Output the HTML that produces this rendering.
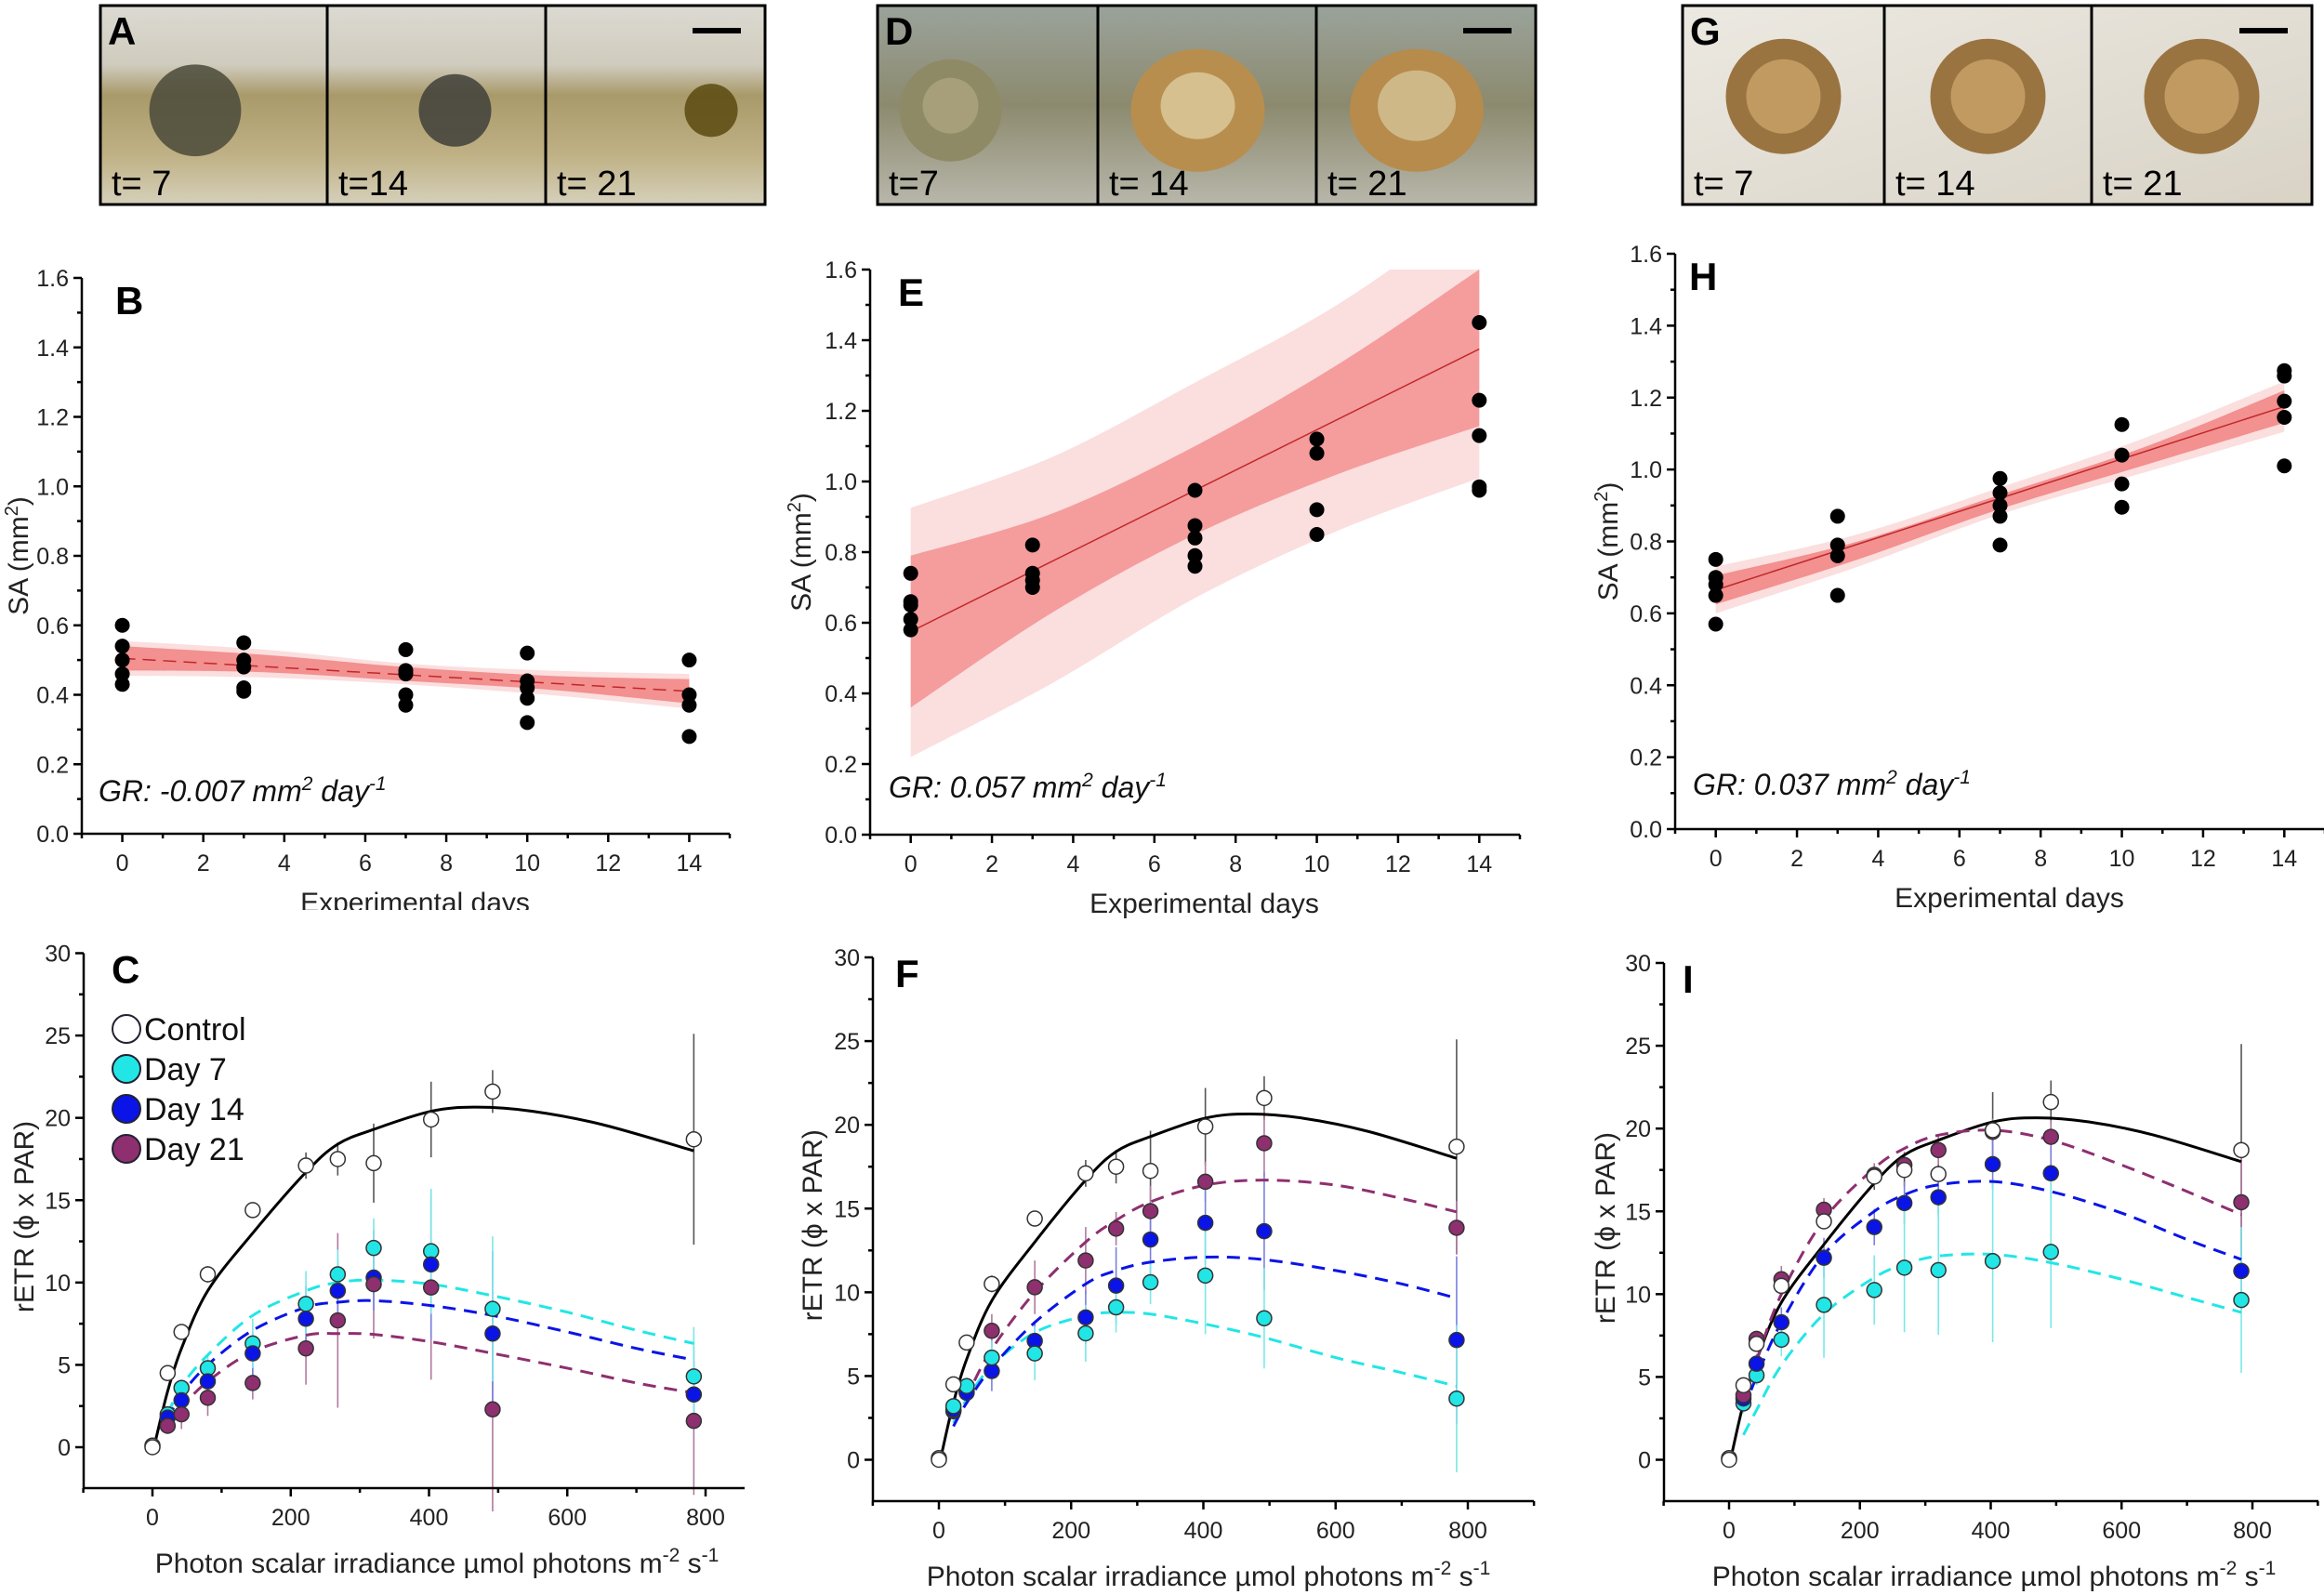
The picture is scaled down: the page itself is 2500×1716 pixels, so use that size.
<!DOCTYPE html>
<html><head><meta charset="utf-8"><style>
html,body{margin:0;padding:0;background:#fff;}
svg{display:block;font-family:"Liberation Sans",Arial,sans-serif;}
</style></head><body>
<svg id="fig" width="2500" height="1716" viewBox="0 0 2500 1716" xmlns="http://www.w3.org/2000/svg">
<defs>
<linearGradient id="gA" x1="0" y1="0" x2="0" y2="1"><stop offset="0" stop-color="#dcdad2"/><stop offset="0.3" stop-color="#cfcbbd"/><stop offset="0.45" stop-color="#a99a6a"/><stop offset="0.75" stop-color="#bfb185"/><stop offset="1" stop-color="#d6d0bb"/></linearGradient>
<linearGradient id="gD" x1="0" y1="0" x2="0" y2="1"><stop offset="0" stop-color="#9aa39b"/><stop offset="0.5" stop-color="#8c8a6e"/><stop offset="1" stop-color="#b8b7ab"/></linearGradient>
<linearGradient id="gG" x1="0" y1="0" x2="1" y2="1"><stop offset="0" stop-color="#ece9e2"/><stop offset="1" stop-color="#d9d3c6"/></linearGradient>
</defs>
<g id="photos"></g>
<g id="charts"></g>
</svg>
<script>
// ---------- SA (surface area) data ----------
const saDays = [0, 3, 7, 10, 14];
const saB = [[0.60,0.54,0.50,0.46,0.43],[0.55,0.50,0.48,0.42,0.41],[0.53,0.47,0.46,0.40,0.37],[0.52,0.44,0.42,0.39,0.32],[0.50,0.40,0.37,0.28]];
const saE = [[0.74,0.66,0.65,0.61,0.58],[0.82,0.74,0.72,0.70],[0.975,0.875,0.84,0.79,0.76],[1.12,1.08,0.92,0.85],[1.45,1.23,1.13,0.985,0.975]];
const saH = [[0.75,0.70,0.68,0.65,0.57],[0.87,0.79,0.76,0.65],[0.975,0.935,0.90,0.87,0.79],[1.125,1.04,0.96,0.895],[1.275,1.26,1.19,1.145,1.01]];
const fitB = [0.505, 0.41];
const fitE = [0.575, 1.375];
const fitH = [0.665, 1.175];
const bandX = [0, 3.5, 7, 10.5, 14];
const bandBInLo = [0.47,0.465,0.44,0.415,0.375], bandBInHi = [0.54,0.515,0.48,0.455,0.445];
const bandBOutLo = [0.455,0.45,0.43,0.40,0.36], bandBOutHi = [0.555,0.53,0.49,0.47,0.46];
const bandEInLo = [0.36,0.63,0.85,1.02,1.157], bandEInHi = [0.79,0.91,1.10,1.33,1.6];
const bandEOutLo = [0.22,0.43,0.67,0.86,1.01], bandEOutHi = [0.925,1.07,1.28,1.50,1.78];
const bandHInLo = [0.625,0.75,0.89,1.01,1.13], bandHInHi = [0.705,0.80,0.93,1.06,1.22];
const bandHOutLo = [0.60,0.73,0.875,0.99,1.105], bandHOutHi = [0.73,0.82,0.95,1.085,1.245];
const saYTicks = ["0.0","0.2","0.4","0.6","0.8","1.0","1.2","1.4","1.6"];
const saXTicks = [0,2,4,6,8,10,12,14];

// ---------- rETR data ----------
const par = [0, 22, 42, 80, 145, 222, 268, 320, 403, 492, 783];
const ctrl = [0.1, 4.5, 7.0, 10.5, 14.4, 17.1, 17.5, 17.25, 19.9, 21.6, 18.7];
const ctrlErr = [0, 0.3, 0.4, 0.5, 0.4, 0.8, 1.0, 2.4, 2.3, 1.3, 6.4];
const ctrlCurveX = [5, 22, 42, 80, 145, 222, 268, 320, 403, 470, 550, 650, 783];
const ctrlCurveY = [0.5, 3.4, 6.0, 9.5, 13.0, 16.7, 18.4, 19.3, 20.4, 20.65, 20.4, 19.6, 18.0];
const fitX = [22, 42, 80, 145, 222, 268, 320, 403, 492, 600, 700, 783];
// panel C
const c7 = [null, 2.0, 3.6, 4.8, 6.3, 8.7, 10.5, 12.1, 11.9, 8.4, 4.3];
const c14 = [null, 1.8, 2.85, 4.0, 5.7, 7.8, 9.5, 10.3, 11.1, 6.9, 3.2];
const c21 = [null, 1.3, 2.0, 3.0, 3.9, 6.0, 7.7, 9.9, 9.7, 2.3, 1.6];
const c7Err = [0, 0.4, 0.5, 0.8, 1.5, 2.0, 1.5, 1.8, 3.8, 4.4, 3.0];
const c14Err = [0, 0.3, 0.5, 0.8, 1.3, 2.0, 1.8, 2.0, 4.5, 5.0, 2.0];
const c21Err = [0, 0.4, 0.9, 1.1, 1.0, 2.2, 5.3, 3.3, 5.6, 6.2, 4.5];
const c7Fit = [2.0, 3.7, 5.6, 8.0, 9.5, 10.0, 10.15, 9.9, 9.2, 8.2, 7.1, 6.3];
const c14Fit = [1.7, 3.2, 5.0, 7.1, 8.5, 8.8, 8.9, 8.6, 8.0, 7.0, 6.0, 5.3];
const c21Fit = [1.2, 2.4, 4.0, 5.8, 6.8, 6.9, 6.85, 6.4, 5.7, 4.8, 3.9, 3.3];
// panel F
const f7 = [null, 3.2, 4.4, 6.1, 6.35, 7.55, 9.1, 10.6, 11.0, 8.45, 3.65];
const f14 = [null, 3.0, 4.0, 5.3, 7.1, 8.5, 10.4, 13.15, 14.15, 13.65, 7.15];
const f21 = [null, 2.9, 4.1, 7.7, 10.3, 11.9, 13.8, 14.85, 16.6, 18.9, 13.85];
const f7Err = [0, 0.5, 0.5, 1.0, 1.6, 1.7, 1.5, 1.3, 3.5, 3.0, 4.4];
const f14Err = [0, 0.4, 0.5, 1.2, 1.2, 1.6, 2.3, 2.0, 2.5, 3.5, 5.0];
const f21Err = [0, 0.5, 0.6, 1.0, 1.6, 2.0, 1.0, 1.5, 1.2, 2.0, 1.6];
const f7Fit = [2.2, 3.6, 5.6, 7.6, 8.6, 8.8, 8.7, 8.1, 7.3, 6.1, 5.2, 4.4];
const f14Fit = [2.0, 3.4, 5.5, 8.2, 10.5, 11.3, 11.8, 12.1, 11.95, 11.3, 10.5, 9.65];
const f21Fit = [2.5, 3.8, 6.6, 10.0, 13.0, 14.3, 15.4, 16.4, 16.7, 16.4, 15.6, 14.8];
// panel I
const i7 = [null, 3.4, 5.1, 7.25, 9.35, 10.25, 11.6, 11.45, 12.0, 12.55, 9.65];
const i14 = [null, 3.7, 5.8, 8.3, 12.2, 14.05, 15.5, 15.85, 17.85, 17.3, 11.4];
const i21 = [null, 3.9, 7.3, 10.9, 15.1, 17.2, 17.8, 18.7, 19.8, 19.5, 15.55];
const i7Err = [0, 0.6, 0.6, 1.0, 3.2, 2.1, 3.9, 3.9, 4.9, 4.6, 4.4];
const i14Err = [0, 0.4, 0.6, 0.9, 1.2, 1.1, 1.3, 1.2, 1.5, 1.6, 1.8];
const i21Err = [0, 0.4, 0.5, 0.8, 0.7, 0.7, 0.8, 0.9, 0.8, 1.0, 3.2];
const i7Fit = [1.5, 3.0, 5.7, 8.8, 11.0, 11.8, 12.3, 12.4, 11.9, 10.9, 9.8, 8.9];
const i14Fit = [3.0, 5.0, 8.3, 12.4, 15.0, 16.0, 16.6, 16.8, 16.2, 14.9, 13.3, 12.1];
const i21Fit = [3.5, 6.0, 10.0, 14.5, 17.6, 18.8, 19.6, 19.9, 19.3, 17.8, 16.2, 14.8];
const eYTicks = [0, 5, 10, 15, 20, 25, 30];
const eXTicks = [0, 200, 400, 600, 800];

const NS = "http://www.w3.org/2000/svg";
function mk(tag, attrs, parent, txt) {
  const e = document.createElementNS(NS, tag);
  for (const k in attrs) e.setAttribute(k, attrs[k]);
  if (txt !== undefined) e.textContent = txt;
  parent.appendChild(e);
  return e;
}
function smooth(pts) {
  let d = "M" + pts[0][0] + "," + pts[0][1];
  for (let i = 0; i < pts.length - 1; i++) {
    const p0 = pts[Math.max(0, i - 1)], p1 = pts[i], p2 = pts[i + 1], p3 = pts[Math.min(pts.length - 1, i + 2)];
    const c1 = [p1[0] + (p2[0] - p0[0]) / 6, p1[1] + (p2[1] - p0[1]) / 6];
    const c2 = [p2[0] - (p3[0] - p1[0]) / 6, p2[1] - (p3[1] - p1[1]) / 6];
    d += " C" + c1[0] + "," + c1[1] + " " + c2[0] + "," + c2[1] + " " + p2[0] + "," + p2[1];
  }
  return d;
}
const root = document.getElementById("charts");

// ---------- photos ----------
const photos = document.getElementById("photos");
function strip(name, x, y, w, h, divs, grad, labels, kind) {
  const g = mk("g", {}, photos);
  
  
  mk("rect", {x: x, y: y, width: w, height: h, fill: "url(#" + grad + ")"}, g);
  const edges = [x].concat(divs).concat([x + w]);
  for (let i = 0; i < 3; i++) {
    const cx = (edges[i] + edges[i + 1]) / 2, cy = y + h * 0.48, sw = edges[i + 1] - edges[i];
    if (kind === "A") {
      const r = [38, 30, 22][i];
      mk("ellipse", {cx: cx - 20 + i * 40, cy: cy + 10, rx: r * 1.3, ry: r * 1.3, fill: ["#4a4a3a", "#3f3f3a", "#5a4a10"][i], opacity: 0.85}, g);
    } else if (kind === "D") {
      mk("ellipse", {cx: cx - (i === 0 ? 40 : 10), cy: cy + 10, rx: [55, 72, 72][i], ry: [55, 66, 66][i], fill: ["#8f8a66", "#b88e4e", "#b68b4c"][i]}, g);
      mk("ellipse", {cx: cx - (i === 0 ? 40 : 10), cy: cy + 5, rx: [30, 40, 42][i], ry: [30, 36, 38][i], fill: ["#a69f7a", "#d6c08f", "#cfb888"][i]}, g);
    } else {
      mk("ellipse", {cx: cx, cy: cy - 5, rx: 62, ry: 62, fill: "#9a7440"}, g);
      mk("ellipse", {cx: cx, cy: cy - 5, rx: 40, ry: 40, fill: "#c19a62"}, g);
    }
    const t = mk("text", {x: edges[i] + 12, y: y + h - 10, "font-size": 38, fill: "#000"}, g, labels[i]);
    
    
  }
  for (const d of divs) mk("line", {x1: d, y1: y, x2: d, y2: y + h, stroke: "#000", "stroke-width": 3}, g);
  mk("rect", {x: x, y: y, width: w, height: h, fill: "none", stroke: "#000", "stroke-width": 3}, g);
  const sb = mk("rect", {x: x + w - 78, y: y + 24, width: 52, height: 6, fill: "#000"}, g);
  
  
  mk("text", {x: x + 8, y: y + 42, "font-size": 42, "font-weight": "bold"}, g, kind === "A" ? "A" : kind === "D" ? "D" : "G");
}
strip("photo-strip-a", 108, 6, 715, 214, [352, 587], "gA", ["t= 7", "t=14", "t= 21"], "A");
strip("photo-strip-d", 944, 6, 708, 214, [1181, 1416], "gD", ["t=7", "t= 14", "t= 21"], "D");
strip("photo-strip-g", 1810, 6, 677, 214, [2027, 2250], "gG", ["t= 7", "t= 14", "t= 21"], "G");

// ---------- SA panels ----------
function saPanel(cfg) {
  const g = mk("g", {}, root);
  
  
  const xs = v => cfg.xL + (v + 1) * (cfg.xR - cfg.xL) / 16;
  const ys = v => cfg.y0 + (cfg.y16 - cfg.y0) * v / 1.6;
  const clip = "clip-" + cfg.name;
  const cp = mk("clipPath", {id: clip}, g);
  mk("rect", {x: cfg.xL, y: cfg.y16, width: cfg.xR - cfg.xL, height: cfg.y0 - cfg.y16}, cp);
  function band(lo, hi, fill, nm) {
    const up = bandX.map((x, i) => [xs(x), ys(hi[i])]);
    const dn = bandX.map((x, i) => [xs(x), ys(lo[i])]).reverse();
    const d = smooth(up) + " L" + dn[0][0] + "," + dn[0][1] + smooth(dn).replace(/^M[^ C]+/, "") + " Z";
    const p = mk("path", {d: d, fill: fill, "clip-path": "url(#" + clip + ")"}, g);
    
    
  }
  band(cfg.outLo, cfg.outHi, "#fbdede", "prediction-band");
  band(cfg.inLo, cfg.inHi, cfg.inFill, "confidence-band");
  const fl = mk("line", {x1: xs(0), y1: ys(cfg.fit[0]), x2: xs(14), y2: ys(cfg.fit[1]), stroke: "#c0282a", "stroke-width": 1.5, "stroke-dasharray": cfg.dash}, g);
  
  
  cfg.pts.forEach((arr, i) => arr.forEach(v => {
    const c = mk("circle", {cx: xs(saDays[i]), cy: ys(v), r: 8, fill: "#000"}, g);
    
    
  }));
  // axes
  const ax = mk("g", {stroke: "#000", "stroke-width": 2.5}, g);
  
  
  mk("line", {x1: cfg.xL, y1: cfg.y16, x2: cfg.xL, y2: cfg.y0}, ax);
  mk("line", {x1: cfg.xL, y1: cfg.y0, x2: cfg.xR, y2: cfg.y0}, ax);
  for (let k = 0; k <= 16; k++) {
    const y = ys(k * 0.1);
    mk("line", {x1: cfg.xL - (k % 2 ? 5 : 9), y1: y, x2: cfg.xL, y2: y}, ax);
  }
  for (let k = -1; k <= 15; k++) {
    const x = xs(k);
    mk("line", {x1: x, y1: cfg.y0, x2: x, y2: cfg.y0 + (k % 2 ? 5 : 9)}, ax);
  }
  saYTicks.forEach((t, i) => {
    const e = mk("text", {x: cfg.xL - 14, y: ys(parseFloat(t)) + 9, "font-size": 25, "text-anchor": "end", fill: "#222"}, g, t);
    
    
  });
  saXTicks.forEach(t => {
    const e = mk("text", {x: xs(t), y: cfg.y0 + 40, "font-size": 25, "text-anchor": "middle", fill: "#222"}, g, t);
    
    
  });
  const xt = mk("text", {x: (xs(-1) + xs(15)) / 2 + 10, y: cfg.y0 + 84, "font-size": 30, "text-anchor": "middle", fill: "#222"}, g, "Experimental days");
  
  
  const yt = mk("text", {x: 0, y: 0, "font-size": 30, "text-anchor": "middle", fill: "#222", transform: "translate(" + cfg.ytX + "," + ys(0.8) + ") rotate(-90)"}, g);
  
  
  yt.innerHTML = 'SA (mm<tspan dy="-11" font-size="20">2</tspan><tspan dy="11">)</tspan>';
  const lt = mk("text", {x: cfg.lx, y: ys(1.6) + 39, "font-size": 42, "font-weight": "bold"}, g, cfg.letter);
  
  
  const gr = mk("text", {x: cfg.grx, y: cfg.gry, "font-size": 32, "font-style": "italic", fill: "#111"}, g);
  
  
  gr.innerHTML = cfg.gr + ' mm<tspan dy="-12" font-size="21">2</tspan><tspan dy="12"> day</tspan><tspan dy="-12" font-size="21">-1</tspan>';
}
saPanel({name: "chart-b", letter: "B", xL: 88, xR: 785, y0: 897, y16: 299, pts: saB, fit: fitB, inLo: bandBInLo, inHi: bandBInHi, outLo: bandBOutLo, outHi: bandBOutHi, inFill: "#f39090", dash: "14 8", ytX: 30, lx: 124, grx: 106, gry: 862, gr: "GR: -0.007"});
saPanel({name: "chart-e", letter: "E", xL: 936, xR: 1635, y0: 898, y16: 290, pts: saE, fit: fitE, inLo: bandEInLo, inHi: bandEInHi, outLo: bandEOutLo, outHi: bandEOutHi, inFill: "#f59c9c", dash: "none", ytX: 872, lx: 966, grx: 956, gry: 858, gr: "GR: 0.057"});
saPanel({name: "chart-h", letter: "H", xL: 1802, xR: 2501, y0: 892, y16: 273, pts: saH, fit: fitH, inLo: bandHInLo, inHi: bandHInHi, outLo: bandHOutLo, outHi: bandHOutHi, inFill: "#f39090", dash: "none", ytX: 1740, lx: 1817, grx: 1821, gry: 855, gr: "GR: 0.037"});
// cover clipped B title like reference
mk("rect", {x: 0, y: 979, width: 840, height: 12, fill: "#fff"}, root);

// ---------- rETR panels ----------
const seriesColors = {d7: "#22e6e6", d14: "#0a14e6", d21: "#8e2f70"};
function etrPanel(cfg) {
  const g = mk("g", {}, root);
  
  
  const xs = v => cfg.x0 + (cfg.x800 - cfg.x0) * v / 800;
  const ys = v => cfg.y0 + (cfg.y30 - cfg.y0) * v / 30;
  // fits
  function fitLine(xa, ya, col, dash, nm, w) {
    const p = mk("path", {d: smooth(xa.map((x, i) => [xs(x), ys(ya[i])])), fill: "none", stroke: col, "stroke-width": w, "stroke-dasharray": dash}, g);
    
    
  }
  function errs(vals, e, col, nm) {
    vals.forEach((v, i) => {
      if (v === null || !e[i]) return;
      const l = mk("line", {x1: xs(par[i]), x2: xs(par[i]), y1: ys(v - e[i]), y2: ys(v + e[i]), stroke: col, "stroke-width": 1.6}, g);
      
      
    });
  }
  function pts(vals, col, stroke, nm) {
    vals.forEach((v, i) => {
      if (v === null) return;
      const c = mk("circle", {cx: xs(par[i]), cy: ys(v), r: 8, fill: col, stroke: stroke, "stroke-width": 1.5}, g);
      
      
    });
  }
  errs(ctrl, ctrlErr, "#555", "control-error-bar");
  errs(cfg.s21, cfg.e21, "#b07a9e", "day21-error-bar");
  errs(cfg.s14, cfg.e14, "#7a80e0", "day14-error-bar");
  errs(cfg.s7, cfg.e7, "#7ae8e8", "day7-error-bar");
  fitLine(ctrlCurveX, ctrlCurveY, "#000", "none", "control-fit", 3);
  fitLine(fitX, cfg.f7, seriesColors.d7, "14 9", "day7-fit", 3);
  fitLine(fitX, cfg.f14, seriesColors.d14, "14 9", "day14-fit", 3);
  fitLine(fitX, cfg.f21, seriesColors.d21, "14 9", "day21-fit", 3);
  pts(cfg.order[0], cfg.orderC[0], "#333", "series-point");
  pts(cfg.order[1], cfg.orderC[1], "#333", "series-point");
  pts(cfg.order[2], cfg.orderC[2], "#333", "series-point");
  pts(ctrl, "#fff", "#333", "control-point");
  pts([0], "#fff", "#333", "control-point");
  // axes
  const ax = mk("g", {stroke: "#000", "stroke-width": 2.5}, g);
  
  
  mk("line", {x1: cfg.xL, y1: ys(30), x2: cfg.xL, y2: cfg.yB}, ax);
  mk("line", {x1: cfg.xL, y1: cfg.yB, x2: cfg.xR, y2: cfg.yB}, ax);
  for (let k = 0; k <= 12; k++) {
    const y = ys(k * 2.5);
    mk("line", {x1: cfg.xL - (k % 2 ? 5 : 9), y1: y, x2: cfg.xL, y2: y}, ax);
  }
  for (let k = -100; k <= cfg.xMax; k += 100) {
    const x = xs(k);
    mk("line", {x1: x, y1: cfg.yB, x2: x, y2: cfg.yB + (k % 200 ? 5 : 9)}, ax);
  }
  eYTicks.forEach(t => {
    const e = mk("text", {x: cfg.xL - 14, y: ys(t) + 9, "font-size": 25, "text-anchor": "end", fill: "#222"}, g, t);
    
    
  });
  eXTicks.forEach(t => {
    const e = mk("text", {x: xs(t), y: cfg.yB + 40, "font-size": 25, "text-anchor": "middle", fill: "#222"}, g, t);
    
    
  });
  const xt = mk("text", {x: cfg.xtX, y: cfg.yB + 91, "font-size": 30, "text-anchor": "middle", fill: "#222"}, g);
  
  
  xt.innerHTML = 'Photon scalar irradiance µmol photons m<tspan dy="-12" font-size="21">-2</tspan><tspan dy="12"> s</tspan><tspan dy="-12" font-size="21">-1</tspan>';
  const yt = mk("text", {x: 0, y: 0, "font-size": 30, "text-anchor": "middle", fill: "#222", transform: "translate(" + cfg.ytX + "," + ys(14) + ") rotate(-90)"}, g, "rETR (ϕ x PAR)");
  
  
  const lt = mk("text", {x: cfg.lx, y: ys(30) + 32, "font-size": 42, "font-weight": "bold"}, g, cfg.letter);
  
  
  if (cfg.legend) {
    const lg = mk("g", {}, g);
    
    
    const items = [["Control", "#fff"], ["Day 7", seriesColors.d7], ["Day 14", seriesColors.d14], ["Day 21", seriesColors.d21]];
    items.forEach((it, i) => {
      const y = 1107 + i * 43;
      const c = mk("circle", {cx: 136, cy: y, r: 15, fill: it[1], stroke: "#223", "stroke-width": 2}, lg);
      
      
      const t = mk("text", {x: 155, y: y + 12, "font-size": 34, fill: "#111"}, lg, it[0]);
      
      
    });
  }
}
etrPanel({name: "chart-c", letter: "C", x0: 164, x800: 759, xL: 90, xR: 801, xMax: 800, y0: 1557, y30: 1025.5, yB: 1601,
  s7: c7, s14: c14, s21: c21, e7: c7Err, e14: c14Err, e21: c21Err, f7: c7Fit, f14: c14Fit, f21: c21Fit,
  order: [c7, c14, c21], orderC: [seriesColors.d7, seriesColors.d14, seriesColors.d21], xtX: 470, ytX: 36, lx: 120, legend: true});
etrPanel({name: "chart-f", letter: "F", x0: 1010, x800: 1579, xL: 939, xR: 1650, xMax: 900, y0: 1570.5, y30: 1030, yB: 1615,
  s7: f7, s14: f14, s21: f21, e7: f7Err, e14: f14Err, e21: f21Err, f7: f7Fit, f14: f14Fit, f21: f21Fit,
  order: [f21, f14, f7], orderC: [seriesColors.d21, seriesColors.d14, seriesColors.d7], xtX: 1300, ytX: 884, lx: 963, legend: false});
etrPanel({name: "chart-i", letter: "I", x0: 1860, x800: 2423, xL: 1790, xR: 2494, xMax: 900, y0: 1570.5, y30: 1036, yB: 1615,
  s7: i7, s14: i14, s21: i21, e7: i7Err, e14: i14Err, e21: i21Err, f7: i7Fit, f14: i14Fit, f21: i21Fit,
  order: [i7, i14, i21], orderC: [seriesColors.d7, seriesColors.d14, seriesColors.d21], xtX: 2145, ytX: 1737, lx: 1810, legend: false});
</script>
</body></html>
